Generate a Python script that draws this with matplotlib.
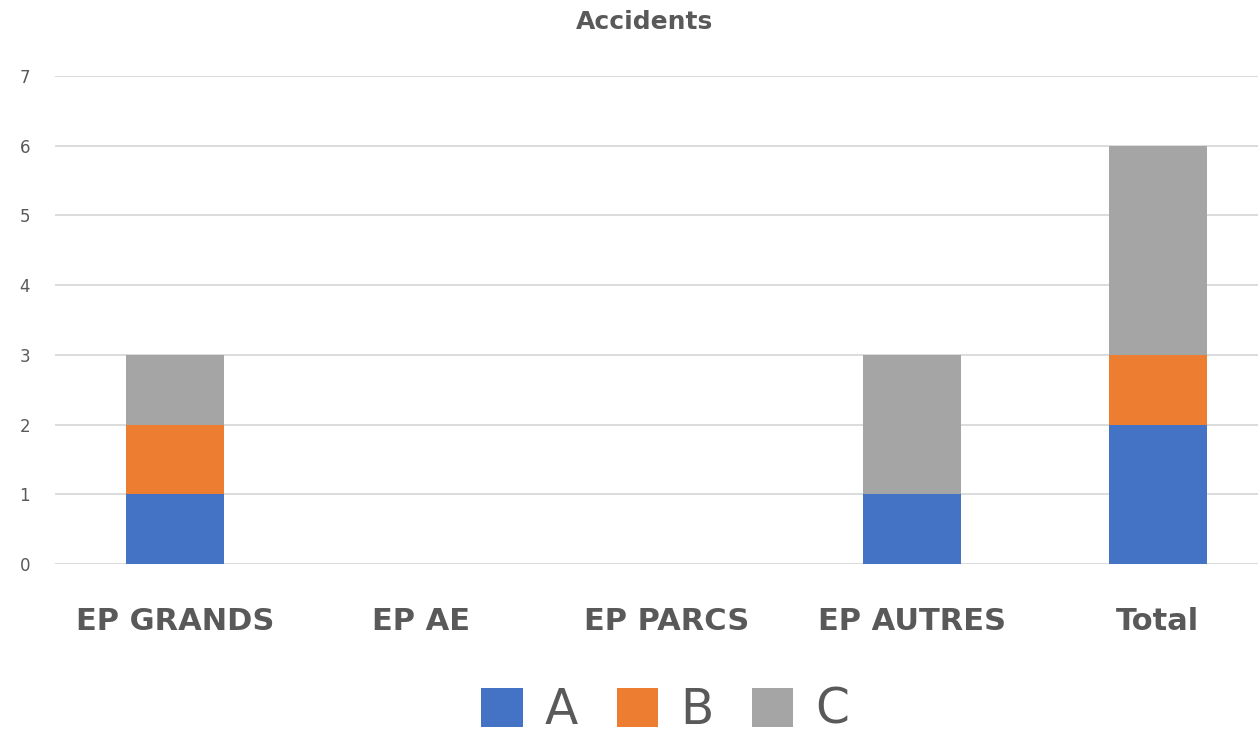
import numpy as np
import matplotlib.pyplot as plt

categories = ['EP GRANDS', 'EP AE', 'EP PARCS', 'EP AUTRES', 'Total']
a_vals = [1, 0, 0, 1, 2]
b_vals = [1, 0, 0, 0, 1]
c_vals = [1, 0, 0, 2, 3]

colors = {'A': '#4472C4', 'B': '#ED7D31', 'C': '#A5A5A5'}
text_col = '#595959'

fig = plt.figure(figsize=(12.6, 7.36), dpi=100)
ax = fig.add_axes([55 / 1260, (736 - 564) / 736, (1258 - 55) / 1260, (564 - 76) / 736])

x = np.arange(len(categories))
w = 0.4
a = np.array(a_vals)
b = np.array(b_vals)
c = np.array(c_vals)
ax.bar(x, a, w, color=colors['A'], label='A', zorder=3)
ax.bar(x, b, w, bottom=a, color=colors['B'], label='B', zorder=3)
ax.bar(x, c, w, bottom=a + b, color=colors['C'], label='C', zorder=3)

ax.set_xlim(-0.488, 4.407)
ax.set_ylim(0, 7)
ax.set_yticks(range(8))
ax.yaxis.grid(True, color='#D9D9D9', linewidth=1.3)
ax.set_axisbelow(True)
for s in ax.spines.values():
    s.set_visible(False)
ax.tick_params(axis='both', length=0)
ax.tick_params(axis='y', labelsize=12, labelcolor=text_col, pad=18)
ax.set_xticks(x)
ax.set_xticklabels(categories, fontsize=22, fontweight='bold', color=text_col)
ax.tick_params(axis='x', pad=31)

fig.text(0.5 + 15 / 1260, 1 - 22 / 736, 'Accidents', ha='center', va='center',
         fontsize=18, fontweight='bold', color=text_col)

handles, labels = ax.get_legend_handles_labels()
leg = fig.legend(handles, labels, loc='center', bbox_to_anchor=(0.528, 1 - 710 / 736),
                 ncol=3, frameon=False, fontsize=35, handlelength=0.85, handleheight=0.85,
                 handletextpad=0.45, columnspacing=0.8, borderaxespad=0)
for t in leg.get_texts():
    t.set_color(text_col)

fig.savefig('out.png', dpi=100)
